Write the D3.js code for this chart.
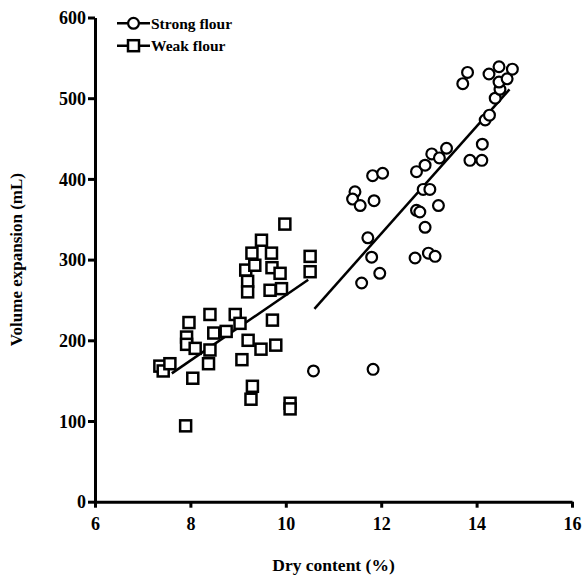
<!DOCTYPE html>
<html>
<head>
<meta charset="utf-8">
<script src="https://cdn.jsdelivr.net/npm/d3@7"></script>
<style>
  html, body { margin: 0; padding: 0; background: #fff; }
  svg { display: block; }
  text { font-family: "Liberation Serif", "Times New Roman", serif; font-weight: bold; fill: #000; }
</style>
</head>
<body>
<script>
// Dry content (%) and volume expansion (mL) per sample
const weakX = [7.36, 7.43, 7.57, 7.90, 7.92, 7.92, 7.97, 8.05, 8.10, 8.38, 8.41, 8.41, 8.49, 8.75,
  8.94, 9.04, 9.08, 9.16, 9.20, 9.20, 9.21, 9.27, 9.29, 9.30, 9.35, 9.48, 9.49, 9.67, 9.70, 9.71,
  9.72, 9.79, 9.88, 9.91, 9.98, 10.09, 10.09, 10.51, 10.51];
const weakY = [168, 162, 171, 94, 204, 195, 222, 153, 190, 171, 232, 188, 209, 211,
  232, 221, 176, 287, 273, 260, 200, 127, 308, 143, 293, 189, 324, 262, 308, 290,
  225, 194, 283, 264, 344, 122, 115, 304, 285];

const strongX = [10.58, 11.83, 11.82, 12.03, 11.45, 11.40, 11.56, 11.85, 11.72, 11.80, 11.97, 11.59,
  12.71, 12.74, 12.92, 12.74, 12.81, 12.92, 12.88, 13.02, 13.20, 12.99, 13.13, 13.06, 13.22, 13.37,
  13.86, 14.11, 14.12, 14.18, 14.27, 14.39, 14.49, 14.47, 14.64, 14.75, 14.47, 14.26, 13.81, 13.71];
const strongY = [162, 164, 404, 407, 384, 375, 367, 373, 327, 303, 283, 271,
  302, 409, 417, 361, 359, 340, 387, 387, 367, 308, 304, 431, 426, 438,
  423, 423, 443, 473, 479, 500, 511, 520, 524, 536, 539, 530, 532, 518];

// Linear trend lines: [dry content, volume] at each end
const weakFit = [[7.61, 159], [10.47, 275]];
const strongFit = [[10.60, 239], [14.69, 511]];

const xTicks = [6, 8, 10, 12, 14, 16];
const yTicks = [0, 100, 200, 300, 400, 500, 600];
const seriesNames = ["Strong flour", "Weak flour"];

const W = 584, H = 575;
const svg = d3.select("body").append("svg").attr("width", W).attr("height", H);

const x = d3.scaleLinear().domain([6, 16]).range([95, 572]);
const y = d3.scaleLinear().domain([0, 600]).range([501.7, 17.5]);

// Axes
const xAxis = svg.append("g").attr("transform", `translate(0,${y(0)})`)
  .call(d3.axisBottom(x).tickValues(xTicks).tickSize(6).tickSizeOuter(0).tickPadding(10));
const yAxis = svg.append("g").attr("transform", `translate(${x(6)},0)`)
  .call(d3.axisLeft(y).tickValues(yTicks).tickSize(7).tickSizeOuter(0).tickPadding(2));
[xAxis, yAxis].forEach(g => {
  g.select(".domain").attr("stroke", "#000").attr("stroke-width", 3);
  g.selectAll(".tick line").attr("stroke", "#000").attr("stroke-width", 3);
  g.selectAll(".tick text").style("font-size", "18px").attr("fill", "#000")
    .style("font-family", "'Liberation Serif', serif").style("font-weight", "bold");
});
yAxis.selectAll(".tick text").attr("dy", "0.34em");

// Axis titles
svg.append("text").attr("x", (x(6) + x(16)) / 2).attr("y", 571).attr("text-anchor", "middle")
  .style("font-size", "17.5px").text("Dry content (%)");
svg.append("text").attr("transform", `translate(22,${(y(0) + y(600)) / 2}) rotate(-90)`)
  .attr("text-anchor", "middle").style("font-size", "17px").text("Volume expansion (mL)");

// Trend lines
const line = d3.line().x(d => x(d[0])).y(d => y(d[1]));
[weakFit, strongFit].forEach(f => {
  svg.append("path").attr("d", line(f)).attr("fill", "none").attr("stroke", "#000").attr("stroke-width", 2.5);
});

// Weak flour: open squares
const sq = 11;
svg.append("g").selectAll("rect").data(d3.range(weakX.length)).join("rect")
  .attr("x", i => x(weakX[i]) - sq / 2).attr("y", i => y(weakY[i]) - sq / 2)
  .attr("width", sq).attr("height", sq)
  .attr("fill", "#fff").attr("stroke", "#000").attr("stroke-width", 2.5);

// Strong flour: open circles
svg.append("g").selectAll("circle").data(d3.range(strongX.length)).join("circle")
  .attr("cx", i => x(strongX[i])).attr("cy", i => y(strongY[i])).attr("r", 5.4)
  .attr("fill", "#fff").attr("stroke", "#000").attr("stroke-width", 2.2);

// Legend
const legend = svg.append("g");
seriesNames.forEach((name, i) => {
  const cy = 23.3 + i * 22.4;
  legend.append("line").attr("x1", 117).attr("x2", 150).attr("y1", cy).attr("y2", cy)
    .attr("stroke", "#000").attr("stroke-width", 2.5);
  if (i === 0) {
    legend.append("circle").attr("cx", 133.5).attr("cy", cy).attr("r", 5.4)
      .attr("fill", "#fff").attr("stroke", "#000").attr("stroke-width", 2.2);
  } else {
    legend.append("rect").attr("x", 133.5 - sq / 2).attr("y", cy - sq / 2).attr("width", sq).attr("height", sq)
      .attr("fill", "#fff").attr("stroke", "#000").attr("stroke-width", 2.5);
  }
  legend.append("text").attr("x", 151).attr("y", cy).attr("dy", "0.35em")
    .style("font-size", "15.5px").text(name);
});
</script>
</body>
</html>
